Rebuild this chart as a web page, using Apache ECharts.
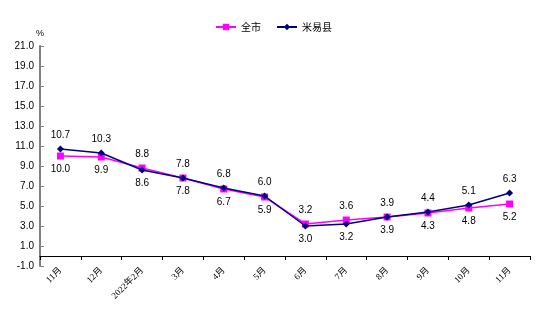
<!DOCTYPE html>
<html>
<head>
<meta charset="utf-8">
<script src="https://cdn.jsdelivr.net/npm/echarts@6/dist/echarts.min.js"></script>
<style>
  html, body { margin: 0; padding: 0; background: #fff; }
  #chart { width: 550px; height: 330px; }
</style>
</head>
<body>
<div id="chart"></div>
<script>
// Month categories
const months = ['11月', '12月', '2022年2月', '3月', '4月', '5月', '6月', '7月', '8月', '9月', '10月', '11月'];
// Cumulative growth, %
const cityValues = [10.0, 9.9, 8.8, 7.8, 6.7, 5.9, 3.2, 3.6, 3.9, 4.3, 4.8, 5.2];
const countyValues = [10.7, 10.3, 8.6, 7.8, 6.8, 6.0, 3.0, 3.2, 3.9, 4.4, 5.1, 6.3];
// Y-axis tick labels
const yTicks = [-1, 1, 3, 5, 7, 9, 11, 13, 15, 17, 19, 21];

const seriesNames = ['全市', '米易县'];
const labelFont = { fontFamily: 'Liberation Sans, Arial, sans-serif', fontSize: 10, color: '#000' };

// Put the higher value's label above its point and the lower one below
function buildData(values, others, winsTie) {
  return values.map((v, i) => {
    const above = v > others[i] || (v === others[i] && winsTie);
    return {
      value: v,
      label: { position: above ? 'top' : 'bottom', distance: 5 }
    };
  });
}

const chart = echarts.init(document.getElementById('chart'));
chart.setOption({
  animation: false,
  legend: {
    top: 17,
    left: 210,
    itemWidth: 20,
    itemHeight: 8,
    itemGap: 15,
    textStyle: { fontFamily: 'Noto Sans CJK SC', fontSize: 10, color: '#000' },
    data: seriesNames
  },
  grid: { left: 40, right: 20, top: 46, bottom: 64, containLabel: false },
  xAxis: [
    {
      type: 'category',
      data: months,
      boundaryGap: true,
      position: 'bottom',
      axisLine: { show: false, onZero: false },
      axisTick: { show: false },
      axisLabel: {
        rotate: 45,
        margin: 3,
        interval: 0,
        fontFamily: 'Liberation Serif, Noto Sans CJK SC, serif',
        fontSize: 9,
        color: '#000'
      }
    },
    {
      type: 'category',
      data: months,
      boundaryGap: true,
      axisLine: { show: true, onZero: true, onZeroAxisIndex: 0, lineStyle: { color: '#000', width: 1 } },
      axisTick: { show: true, inside: true, length: 4, interval: 0, lineStyle: { color: '#000' } },
      axisLabel: { show: false }
    }
  ],
  yAxis: {
    type: 'value',
    min: -1,
    max: 21,
    name: '%',
    nameGap: 8,
    nameTextStyle: { fontFamily: 'Liberation Sans, Arial, sans-serif', fontSize: 9, color: '#000', padding: [0, 0, 0, 0] },
    axisLine: { show: true, lineStyle: { color: '#808080', width: 2 } },
    axisTick: { show: true, inside: true, length: 4, customValues: yTicks, lineStyle: { color: '#808080' } },
    axisLabel: {
      customValues: yTicks,
      margin: 6,
      formatter: v => v.toFixed(1),
      fontFamily: 'Liberation Sans, Arial, sans-serif',
      fontSize: 10,
      color: '#000'
    },
    splitLine: { show: false }
  },
  series: [
    {
      name: seriesNames[0],
      type: 'line',
      xAxisIndex: 0,
      data: buildData(cityValues, countyValues, false),
      symbol: 'rect',
      symbolSize: 7,
      itemStyle: { color: '#FF00FF' },
      lineStyle: { color: '#FF00FF', width: 1.5 },
      label: Object.assign({ show: true, formatter: p => p.value.toFixed(1) }, labelFont),
      z: 2
    },
    {
      name: seriesNames[1],
      type: 'line',
      xAxisIndex: 0,
      data: buildData(countyValues, cityValues, true),
      symbol: 'diamond',
      symbolSize: 7,
      itemStyle: { color: '#000080' },
      lineStyle: { color: '#000080', width: 1.5 },
      label: Object.assign({ show: true, formatter: p => p.value.toFixed(1) }, labelFont),
      z: 3
    }
  ]
});
</script>
</body>
</html>
